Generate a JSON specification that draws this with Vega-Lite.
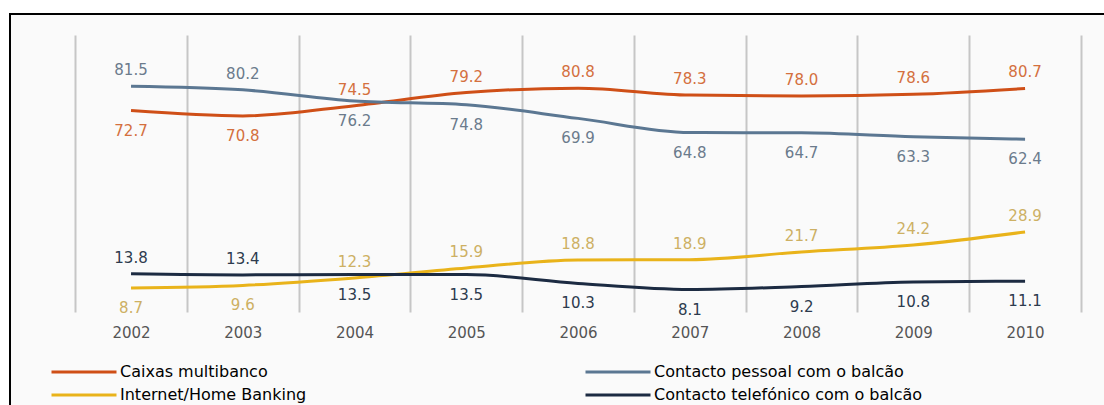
{
  "$schema": "https://vega.github.io/schema/vega-lite/v6.json",
  "width": 1100,
  "height": 400,
  "autosize": {"type": "none"},
  "padding": {"left": 10, "top": 14, "right": 0, "bottom": 0},
  "background": "white",
  "config": {
    "view": {"stroke": "#000000", "strokeWidth": 2, "fill": "#fafafa"},
    "font": "DejaVu Sans"
  },
  "data": {
    "values": [
      {"year": 2002, "series": "Caixas multibanco", "value": 72.7},
      {"year": 2003, "series": "Caixas multibanco", "value": 70.8},
      {"year": 2004, "series": "Caixas multibanco", "value": 74.5},
      {"year": 2005, "series": "Caixas multibanco", "value": 79.2},
      {"year": 2006, "series": "Caixas multibanco", "value": 80.8},
      {"year": 2007, "series": "Caixas multibanco", "value": 78.3},
      {"year": 2008, "series": "Caixas multibanco", "value": 78.0},
      {"year": 2009, "series": "Caixas multibanco", "value": 78.6},
      {"year": 2010, "series": "Caixas multibanco", "value": 80.7},
      {"year": 2002, "series": "Contacto pessoal com o balcão", "value": 81.5},
      {"year": 2003, "series": "Contacto pessoal com o balcão", "value": 80.2},
      {"year": 2004, "series": "Contacto pessoal com o balcão", "value": 76.2},
      {"year": 2005, "series": "Contacto pessoal com o balcão", "value": 74.8},
      {"year": 2006, "series": "Contacto pessoal com o balcão", "value": 69.9},
      {"year": 2007, "series": "Contacto pessoal com o balcão", "value": 64.8},
      {"year": 2008, "series": "Contacto pessoal com o balcão", "value": 64.7},
      {"year": 2009, "series": "Contacto pessoal com o balcão", "value": 63.3},
      {"year": 2010, "series": "Contacto pessoal com o balcão", "value": 62.4},
      {"year": 2002, "series": "Internet/Home Banking", "value": 8.7},
      {"year": 2003, "series": "Internet/Home Banking", "value": 9.6},
      {"year": 2004, "series": "Internet/Home Banking", "value": 12.3},
      {"year": 2005, "series": "Internet/Home Banking", "value": 15.9},
      {"year": 2006, "series": "Internet/Home Banking", "value": 18.8},
      {"year": 2007, "series": "Internet/Home Banking", "value": 18.9},
      {"year": 2008, "series": "Internet/Home Banking", "value": 21.7},
      {"year": 2009, "series": "Internet/Home Banking", "value": 24.2},
      {"year": 2010, "series": "Internet/Home Banking", "value": 28.9},
      {"year": 2002, "series": "Contacto telefónico com o balcão", "value": 13.8},
      {"year": 2003, "series": "Contacto telefónico com o balcão", "value": 13.4},
      {"year": 2004, "series": "Contacto telefónico com o balcão", "value": 13.5},
      {"year": 2005, "series": "Contacto telefónico com o balcão", "value": 13.5},
      {"year": 2006, "series": "Contacto telefónico com o balcão", "value": 10.3},
      {"year": 2007, "series": "Contacto telefónico com o balcão", "value": 8.1},
      {"year": 2008, "series": "Contacto telefónico com o balcão", "value": 9.2},
      {"year": 2009, "series": "Contacto telefónico com o balcão", "value": 10.8},
      {"year": 2010, "series": "Contacto telefónico com o balcão", "value": 11.1}
    ]
  },
  "layer": [
    {
      "mark": {"type": "line", "strokeWidth": 3, "interpolate": "monotone"},
      "encoding": {
        "x": {
          "field": "year", "type": "quantitative",
          "scale": {"domain": [2000.917, 2010.76], "nice": false, "zero": false},
          "axis": {
            "orient": "top", "values": [2001.5, 2002.5, 2003.5, 2004.5, 2005.5, 2006.5, 2007.5, 2008.5, 2009.5, 2010.5],
            "labels": false, "domain": false, "grid": false, "title": null,
            "ticks": true, "tickSize": -277, "tickColor": "#c6c6c6", "tickWidth": 2, "offset": -21
          }
        },
        "y": {
          "field": "value", "type": "quantitative",
          "scale": {"domain": [-36.82, 107.58], "nice": false, "zero": false},
          "axis": null
        },
        "stroke": {
          "field": "series", "type": "nominal",
          "scale": {
            "domain": ["Caixas multibanco", "Internet/Home Banking", "Contacto pessoal com o balcão", "Contacto telefónico com o balcão"],
            "range": ["#cf4f17", "#e9b31a", "#5b7792", "#1c2b42"]
          },
          "legend": {
            "orient": "none", "legendX": 66, "legendY": 350, "columns": 2,
            "columnPadding": 272, "rowPadding": 7, "padding": 0,
            "symbolType": "M-6.5,0H6.5", "symbolSize": 100, "symbolStrokeWidth": 3,
            "symbolFillColor": "transparent",
            "labelOffset": 28, "labelFont": "DejaVu Sans", "labelFontSize": 16,
            "labelColor": "#000000", "labelLimit": 500, "title": null
          }
        }
      }
    },
    {
      "transform": [{"filter": "(datum.series == 'Caixas multibanco' && datum.year >= 2004) || (datum.series == 'Contacto pessoal com o balcão' && datum.year <= 2003) || (datum.series == 'Internet/Home Banking' && datum.year >= 2004) || (datum.series == 'Contacto telefónico com o balcão' && datum.year <= 2003)"}],
      "mark": {"type": "text", "dy": -16, "fontSize": 15, "font": "DejaVu Sans", "baseline": "middle"},
      "encoding": {
        "x": {
          "field": "year", "type": "quantitative",
          "axis": {
            "orient": "bottom", "values": [2002, 2003, 2004, 2005, 2006, 2007, 2008, 2009, 2010],
            "format": "d", "labels": true, "domain": false, "grid": false, "ticks": false, "tickSize": 0,
            "title": null, "offset": -82, "labelPadding": 0, "labelBaseline": "middle",
            "labelFont": "DejaVu Sans", "labelFontSize": 15, "labelColor": "#555555"
          }
        },
        "y": {"field": "value", "type": "quantitative"},
        "text": {"field": "value", "type": "quantitative", "format": ".1f"},
        "fill": {
          "field": "series", "type": "nominal",
          "scale": {
            "domain": ["Caixas multibanco", "Contacto pessoal com o balcão", "Internet/Home Banking", "Contacto telefónico com o balcão"],
            "range": ["#d4703e", "#6b7b8c", "#cdb063", "#2d3b4e"]
          },
          "legend": null
        }
      }
    },
    {
      "transform": [{"filter": "!((datum.series == 'Caixas multibanco' && datum.year >= 2004) || (datum.series == 'Contacto pessoal com o balcão' && datum.year <= 2003) || (datum.series == 'Internet/Home Banking' && datum.year >= 2004) || (datum.series == 'Contacto telefónico com o balcão' && datum.year <= 2003))"}],
      "mark": {"type": "text", "dy": 20, "fontSize": 15, "font": "DejaVu Sans", "baseline": "middle"},
      "encoding": {
        "x": {"field": "year", "type": "quantitative", "axis": null},
        "y": {"field": "value", "type": "quantitative"},
        "text": {"field": "value", "type": "quantitative", "format": ".1f"},
        "fill": {"field": "series", "type": "nominal", "legend": null}
      }
    }
  ],
  "resolve": {"axis": {"x": "independent"}}
}
